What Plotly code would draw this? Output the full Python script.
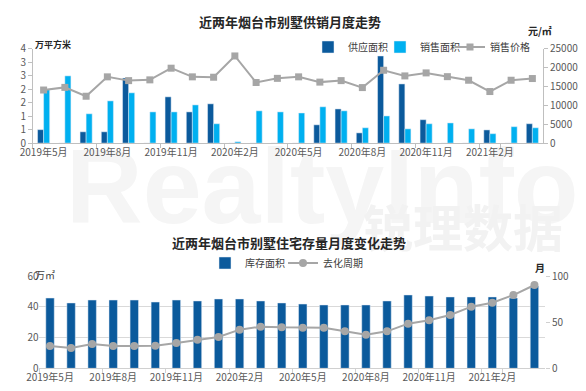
import plotly.graph_objects as go

months = ["2019年5月", "2019年6月", "2019年7月", "2019年8月", "2019年9月", "2019年10月",
          "2019年11月", "2019年12月", "2020年1月", "2020年2月", "2020年3月", "2020年4月",
          "2020年5月", "2020年6月", "2020年7月", "2020年8月", "2020年9月", "2020年10月",
          "2020年11月", "2020年12月", "2021年1月", "2021年2月", "2021年3月", "2021年4月"]
tick_months = months[::3]

supply = [0.5, 0, 0.42, 0.42, 2.42, 0, 1.72, 1.16, 1.46, 0, 0, 0,
          0, 0.68, 1.27, 0.38, 3.24, 2.2, 0.87, 0, 0, 0.49, 0, 0.72]
sales = [2.0, 2.5, 1.09, 1.57, 1.87, 1.16, 1.16, 1.42, 0.72, 0.05, 1.2, 1.16,
         1.12, 1.35, 1.2, 0.57, 1.01, 0.53, 0.72, 0.75, 0.53, 0.35, 0.61, 0.57]
price = [14100, 14800, 12450, 17600, 16600, 16800, 19900, 17600, 17500, 23150, 16100, 17200,
         17600, 16200, 16600, 14750, 19350, 17850, 18650, 17650, 16700, 13700, 16700, 17150]

left_ticks = [0, 0.5, 1, 1.5, 2, 2.5, 3, 3.5]
left_ticktext = ["0", "1", "1", "2", "2", "3", "3", "4"]

inventory = [45.7, 42.5, 44.4, 44.4, 44.4, 43.1, 44.4, 43.8, 45.1, 45.1, 43.8, 42.5,
             41.8, 41.2, 41.2, 41.2, 43.8, 47.7, 47.0, 46.4, 46.4, 46.4, 45.7, 53.5]
period = [24.2, 22.0, 26.4, 24.2, 24.2, 24.5, 27.4, 31.0, 33.9, 41.9, 45.1, 44.4,
          44.0, 44.0, 40.1, 36.5, 40.1, 48.4, 52.0, 57.8, 66.8, 71.1, 79.4, 90.3]

DARK = "#0b5a9c"
LIGHT = "#00b0f0"
GRAY = "#a6a6a6"
FONT = "Noto Sans CJK SC"
TXT = "#595959"

fig = go.Figure()

# Top chart
fig.add_trace(go.Bar(x=months, y=supply, name="供应面积", marker_color=DARK,
                     xaxis="x", yaxis="y", legend="legend"))
fig.add_trace(go.Bar(x=months, y=sales, name="销售面积", marker_color=LIGHT,
                     xaxis="x", yaxis="y", legend="legend3"))
fig.add_trace(go.Scatter(x=months, y=price, name="销售价格", mode="lines+markers",
                         line=dict(color=GRAY, width=2),
                         marker=dict(symbol="square", size=7, color=GRAY),
                         xaxis="x", yaxis="y2", legend="legend4"))

# Bottom chart
fig.add_trace(go.Bar(x=months, y=inventory, name="库存面积", marker_color=DARK, width=0.4,
                     xaxis="x2", yaxis="y3", legend="legend2"))
fig.add_trace(go.Scatter(x=months, y=period, name="去化周期", mode="lines+markers",
                         line=dict(color=GRAY, width=2),
                         marker=dict(symbol="circle", size=8, color=GRAY),
                         xaxis="x2", yaxis="y4", legend="legend5"))

axfont = dict(family=FONT, size=10, color=TXT)
xrange = [-0.5, len(months) - 0.5]


def leg(xpx, ypx):
    return dict(orientation="h", x=xpx / 586, y=1 - ypx / 391, xanchor="left", yanchor="middle",
                font=dict(family=FONT, size=10, color="#404040"), itemwidth=30,
                bgcolor="rgba(0,0,0,0)", borderwidth=0)


fig.update_layout(
    width=586, height=391,
    margin=dict(l=0, r=0, t=0, b=0, autoexpand=False),
    paper_bgcolor="white", plot_bgcolor="rgba(0,0,0,0)",
    font=dict(family=FONT, color=TXT),
    barmode="group", bargap=0.43, bargroupgap=0,
    xaxis=dict(domain=[0.0563, 0.9266], anchor="y", type="category", range=xrange,
               tickvals=tick_months, ticktext=tick_months, tickangle=0,
               showline=True, linecolor="#bfbfbf", ticks="outside", tickson="boundaries",
               ticklen=4, tickcolor="#bfbfbf", tickfont=axfont, showgrid=False),
    yaxis=dict(domain=[0.634, 0.8747], anchor="x", range=[0, 3.5],
               tickvals=left_ticks, ticktext=left_ticktext,
               showline=True, linecolor="#bfbfbf", ticks="outside", ticklen=4,
               tickcolor="#bfbfbf", tickfont=axfont, showgrid=False, zeroline=False),
    yaxis2=dict(overlaying="y", side="right", anchor="x", range=[0, 25000], dtick=5000,
                tickformat="d",
                showline=True, linecolor="#bfbfbf", ticks="outside", ticklen=4,
                tickcolor="#bfbfbf", tickfont=axfont, showgrid=False, zeroline=False),
    xaxis2=dict(domain=[0.0674, 0.930], anchor="y3", type="category", range=xrange,
                tickvals=tick_months, ticktext=tick_months, tickangle=0,
                showline=True, linecolor="#d0d0d0", ticks="outside", tickson="boundaries",
                ticklen=4, tickcolor="#d0d0d0", tickfont=axfont, showgrid=False),
    yaxis3=dict(domain=[0.058, 0.294], anchor="x2", range=[0, 60], dtick=20,
                showgrid=True, gridcolor="#d9d9d9", showline=False, zeroline=False,
                tickfont=axfont),
    yaxis4=dict(overlaying="y3", side="right", anchor="x2", range=[0, 100], dtick=50,
                showgrid=False, showline=False, zeroline=False, ticks="outside",
                ticklen=4, tickcolor="#d0d0d0", tickfont=axfont),
    legend=leg(308, 47),
    legend3=leg(380, 47),
    legend4=leg(450, 47),
    legend2=leg(205, 263),
    legend5=leg(283, 263),
    showlegend=True,
)

annotations = [
    dict(text="<b>近两年烟台市别墅供销月度走势</b>", x=0.495, y=0.944,
         font=dict(family=FONT, size=13, color="#262626")),
    dict(text="<b>万平方米</b>", x=0.056, y=0.885, xanchor="left",
         font=dict(family=FONT, size=9, color="#262626")),
    dict(text="<b>元/㎡</b>", x=0.922, y=0.923,
         font=dict(family=FONT, size=10, color="#262626")),
    dict(text="<b>近两年烟台市别墅住宅存量月度变化走势</b>", x=0.493, y=0.381,
         font=dict(family=FONT, size=13, color="#262626")),
    dict(text="万㎡", x=0.056, y=0.299, xanchor="left",
         font=dict(family=FONT, size=10, color="#404040")),
    dict(text="<b>月</b>", x=0.921, y=0.317,
         font=dict(family=FONT, size=10, color="#262626")),
]
for a in annotations:
    a.update(xref="paper", yref="paper", showarrow=False, yanchor="middle",
             xanchor=a.get("xanchor", "center"))
fig.update_layout(annotations=annotations)

# faint watermark behind the marks
fig.add_shape(type="rect", xref="paper", yref="paper", x0=0.30, x1=0.80, y0=0.45, y1=0.65,
              line=dict(width=0), fillcolor="rgba(0,0,0,0)", layer="below",
              label=dict(text="<b>RealtyInfo</b>", font=dict(family="Liberation Sans", size=106,
                                                             color="#f5f5f5"),
                         textposition="middle center"))
fig.add_shape(type="rect", xref="paper", yref="paper", x0=0.69, x1=0.89, y0=0.36, y1=0.45,
              line=dict(width=0), fillcolor="rgba(0,0,0,0)", layer="below",
              label=dict(text="<b>锐理数据</b>", font=dict(family=FONT, size=50, color="#f2f2f2"),
                         textposition="middle center"))

fig.write_html("out.html", config={"displayModeBar": False},
               post_script="document.body.style.margin='0';document.body.style.overflow='hidden';")
